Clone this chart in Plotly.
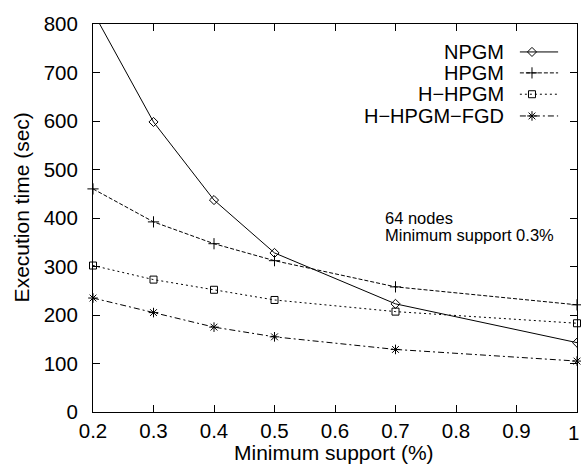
import plotly.graph_objects as go

support = [0.2, 0.3, 0.4, 0.5, 0.7, 1.0]
npgm = [825, 598, 437, 328, 223, 143]
hpgm = [460, 392, 347, 312, 258, 221]
hhpgm = [302, 273, 252, 231, 207, 183]
hhpgm_fgd = [235, 205, 175, 155, 129, 105]

x_ticks = [0.2, 0.3, 0.4, 0.5, 0.6, 0.7, 0.8, 0.9, 1.0]
x_ticktext = ["0.2", "0.3", "0.4", "0.5", "0.6", "0.7", "0.8", "0.9", ""]
last_tick_text = "1"
y_ticks = [0, 100, 200, 300, 400, 500, 600, 700, 800]

names = ["NPGM", "HPGM", "H\u2212HPGM", "H\u2212HPGM\u2212FGD"]
series = [npgm, hpgm, hhpgm, hhpgm_fgd]
dashes = ["solid", "4px,2px", "2px,3px", "6px,3px,2px,3px"]
symbols = ["diamond-open", "cross-thin-open", "square-open", "asterisk-open"]
sizes = [7, 8, 7, 8]
clips = [True, False, False, False]

FONT = "Liberation Sans, Arial, sans-serif"

fig = go.Figure()
for name, vals, d, s, sz, c in zip(names, series, dashes, symbols, sizes, clips):
    fig.add_trace(go.Scatter(
        x=support, y=vals, mode="lines+markers", name=name,
        line=dict(color="black", width=1, dash=d),
        marker=dict(symbol=s, size=sz, color="black", line=dict(color="black", width=1)),
        cliponaxis=c, showlegend=False,
    ))

# custom gnuplot-style key (text on the left, sample on the right)
key_y = [0.928, 0.874, 0.819, 0.763]
for name, ky, d, s, sz in zip(names, key_y, dashes, symbols, sizes):
    fig.add_trace(go.Scatter(
        x=[0.882, 0.961], y=[ky, ky], xaxis="x2", yaxis="y2", mode="lines",
        line=dict(color="black", width=1, dash=d), showlegend=False, hoverinfo="skip",
    ))
    fig.add_trace(go.Scatter(
        x=[0.907], y=[ky], xaxis="x2", yaxis="y2", mode="markers",
        marker=dict(symbol=s, size=sz, color="black", line=dict(color="black", width=1)),
        showlegend=False, hoverinfo="skip", cliponaxis=False,
    ))
    fig.add_annotation(x=0.853, y=ky, xref="x2", yref="y2", text=name, showarrow=False,
                       xanchor="right", yanchor="middle", font=dict(size=20, color="black", family=FONT))

for txt, yy in [("64 nodes", 399), ("Minimum support 0.3%", 364)]:
    fig.add_annotation(x=0.679, y=yy, xref="x", yref="y", text=txt,
                       showarrow=False, xanchor="left", yanchor="middle", align="left",
                       font=dict(size=16.5, color="black", family=FONT))

# axis titles
fig.add_annotation(x=0.498, y=-0.105, xref="paper", yref="paper", text="Minimum support (%)",
                   showarrow=False, xanchor="center", yanchor="middle",
                   font=dict(size=21, color="black", family=FONT))
fig.add_annotation(x=-0.147, y=0.527, xref="paper", yref="paper", text="Execution time (sec)",
                   showarrow=False, xanchor="center", yanchor="middle", textangle=-90,
                   font=dict(size=21, color="black", family=FONT))

# last x tick label, kept inside the page like the reference
fig.add_annotation(x=x_ticks[-1], y=-0.052, xref="x", yref="paper", text=last_tick_text,
                   showarrow=False, xanchor="right", yanchor="middle", xshift=4,
                   font=dict(size=20.5, color="black", family=FONT))

axis_common = dict(
    showgrid=False, zeroline=False, showline=True, linecolor="black", linewidth=1,
    mirror="ticks", ticks="inside", ticklen=7, tickcolor="black", tickwidth=1,
    tickfont=dict(size=20.5, color="black", family=FONT),
)

fig.update_layout(
    width=581, height=465,
    margin=dict(l=93, r=4, t=24, b=53),
    paper_bgcolor="white", plot_bgcolor="white",
    font=dict(family=FONT, color="black"),
    xaxis=dict(range=[0.2, 1.0], tickvals=x_ticks, ticktext=x_ticktext,
               ticklabeloverflow="allow", automargin=False,
               **axis_common),
    yaxis=dict(range=[0, 800], tickvals=y_ticks, ticklabelstandoff=10, automargin=False,
               **axis_common),
    xaxis2=dict(overlaying="x", range=[0, 1], visible=False),
    yaxis2=dict(overlaying="y", range=[0, 1], visible=False),
    showlegend=False,
)

fig.write_html("out.html", config={"displayModeBar": False},
               post_script="document.body.style.margin='0';document.body.style.padding='0';")
